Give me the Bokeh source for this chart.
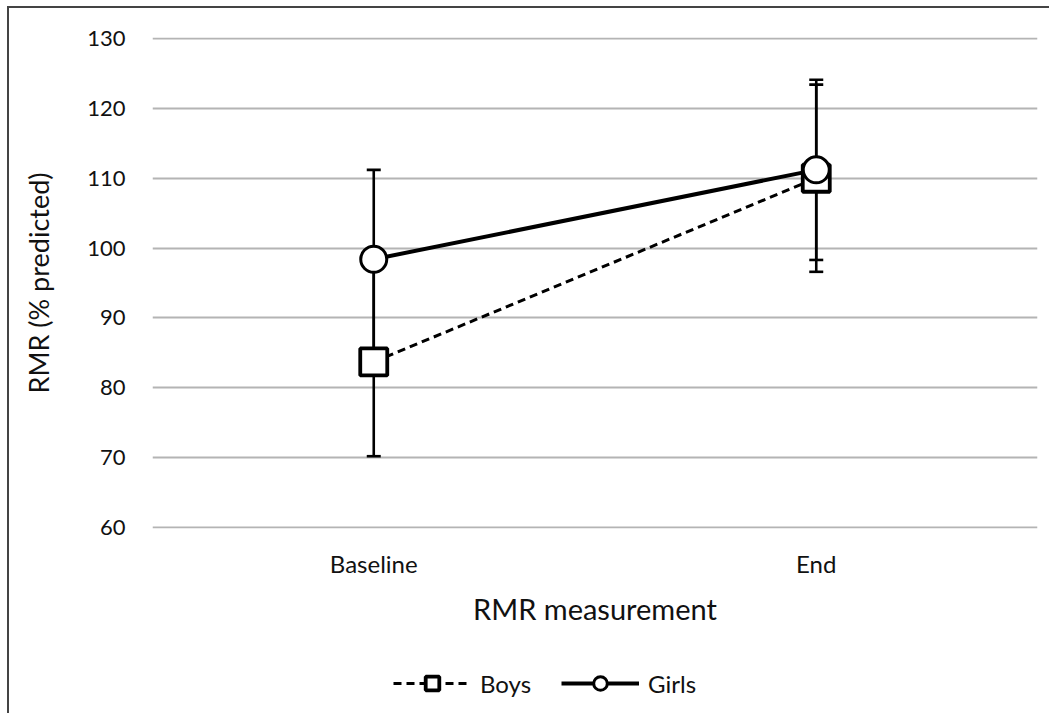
from bokeh.plotting import figure
from bokeh.layouts import column
from bokeh.models import (ColumnDataSource, Whisker, TeeHead, Legend, LegendItem,
                          FactorRange, FixedTicker, Range1d)
from bokeh.embed import file_html
from bokeh.resources import INLINE

# ---- data ----
categories = ["Baseline", "End"]
boys_mean = [83.7, 110.0]
boys_sd = [13.5, 13.4]
girls_mean = [98.4, 111.2]
girls_sd = [12.8, 12.9]
y_ticks = [60, 70, 80, 90, 100, 110, 120, 130]
series_labels = ["Boys", "Girls"]

FONT = "Lato"
TXT = "#111111"

boys = ColumnDataSource(dict(
    x=categories, y=boys_mean,
    lo=[m - s for m, s in zip(boys_mean, boys_sd)],
    hi=[m + s for m, s in zip(boys_mean, boys_sd)],
))
girls = ColumnDataSource(dict(
    x=categories, y=girls_mean,
    lo=[m - s for m, s in zip(girls_mean, girls_sd)],
    hi=[m + s for m, s in zip(girls_mean, girls_sd)],
))

W = 1040
p = figure(width=W, height=655, x_range=FactorRange(*categories),
           y_range=Range1d(59.85, 130.15), output_backend="svg", toolbar_location=None,
           min_border_left=143, min_border_right=12, min_border_top=29,
           min_border_bottom=135)
p.outline_line_color = None
p.background_fill_color = "white"
p.border_fill_color = "white"

# grid
p.xgrid.grid_line_color = None
p.ygrid.grid_line_color = "#b4b4b4"
p.ygrid.grid_line_width = 2
p.yaxis.ticker = FixedTicker(ticks=y_ticks)

# axes
for ax in (p.xaxis, p.yaxis):
    ax.axis_line_color = None
    ax.major_tick_line_color = None
    ax.minor_tick_line_color = None
    ax.major_tick_out = 0
    ax.major_tick_in = 0
    ax.major_label_text_font = FONT
    ax.major_label_text_color = TXT
    ax.axis_label_text_font = FONT
    ax.axis_label_text_font_style = "normal"
    ax.axis_label_text_color = TXT
p.yaxis.major_label_text_font_size = "22px"
p.xaxis.major_label_text_font_size = "24px"
p.yaxis.major_label_standoff = 27
p.xaxis.major_label_standoff = 20
p.xaxis.axis_label = "RMR measurement"
p.xaxis.axis_label_text_font_size = "29px"
p.xaxis.axis_label_standoff = 10
p.yaxis.axis_label = "RMR (% predicted)"
p.yaxis.axis_label_text_font_size = "27px"
p.yaxis.axis_label_standoff = 29

# error bars
for src in (boys, girls):
    w = Whisker(source=src, base="x", lower="lo", upper="hi",
                line_color="black", line_width=2.6,
                upper_head=TeeHead(size=14, line_width=2.6, line_color="black"),
                lower_head=TeeHead(size=14, line_width=2.6, line_color="black"))
    p.add_layout(w)

# lines
boys_line = dict(line_color="black", line_width=3, line_dash="8 5")
girls_line = dict(line_color="black", line_width=4)
boys_mark = dict(marker="square", fill_color="white", line_color="black", line_width=3.8)
girls_mark = dict(marker="circle", fill_color="white", line_color="black", line_width=3)

p.line("x", "y", source=boys, **boys_line)
p.line("x", "y", source=girls, **girls_line)
p.scatter("x", "y", source=boys, size=27, **boys_mark)
p.scatter("x", "y", source=girls, size=26, **girls_mark)

# ---- legend strip (separate figure below; proxies hold one NaN point) ----
lg = figure(width=W, height=50, x_range=(0, 1), y_range=(0, 1),
            output_backend="svg", toolbar_location=None,
            x_axis_location=None, y_axis_location=None, min_border=0)
lg.outline_line_color = None
lg.xgrid.visible = False
lg.ygrid.visible = False
nan = float("nan")
bl = lg.line(x=[nan], y=[nan], **boys_line)
bm = lg.scatter(x=[nan], y=[nan], **boys_mark)
gl = lg.line(x=[nan], y=[nan], **girls_line)
gm = lg.scatter(x=[nan], y=[nan], **girls_mark)
legend = Legend(items=[LegendItem(label=series_labels[0], renderers=[bl, bm]),
                       LegendItem(label=series_labels[1], renderers=[gl, gm])],
                orientation="horizontal", location=(241, 13),
                glyph_width=78, glyph_height=34, label_text_font=FONT,
                label_text_font_size="24px", label_text_color=TXT,
                border_line_color=None, background_fill_alpha=0,
                spacing=30, label_standoff=9, margin=0, padding=0)
lg.add_layout(legend, "center")

layout = column(p, lg, spacing=0,
                styles={"margin-left": "7px", "margin-top": "6px",
                        "border-left": "2px solid #444", "border-top": "2px solid #444"})

open("out.html", "w").write(file_html(layout, INLINE))
